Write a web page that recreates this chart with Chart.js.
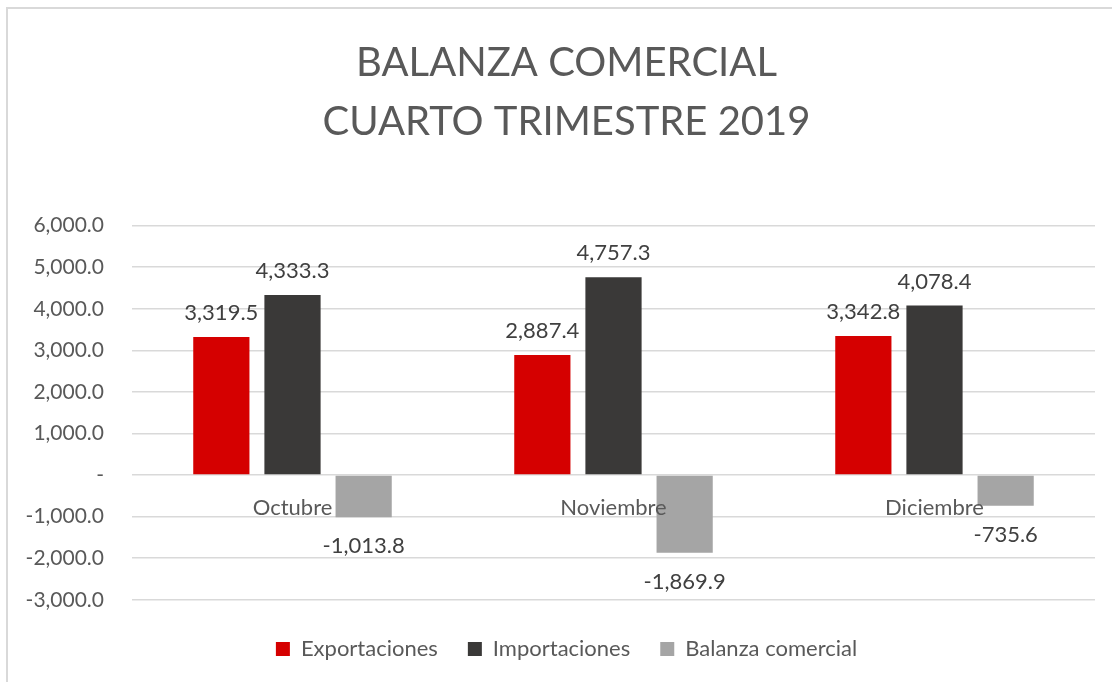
<!DOCTYPE html>
<html>
<head>
<meta charset="utf-8">
<script src="https://cdn.jsdelivr.net/npm/chart.js@4/dist/chart.umd.min.js"></script>
<style>
  html, body { margin: 0; padding: 0; background: #ffffff; overflow: hidden; }
  #wrap { position: absolute; left: 0; top: 0; width: 1112px; height: 682px; }
  #frame { position: absolute; left: 6px; top: 7px; width: 1200px; height: 800px; border: 2px solid #d9d9d9; box-sizing: border-box; pointer-events: none; }
</style>
</head>
<body>
<div id="wrap"><canvas id="c" width="1112" height="682"></canvas></div>
<div id="frame"></div>
<script>
const categories = ['Octubre', 'Noviembre', 'Diciembre'];
const exportaciones = [3319.5, 2887.4, 3342.8];
const importaciones = [4333.3, 4757.3, 4078.4];
const balanza = [-1013.8, -1869.9, -735.6];
const seriesNames = ['Exportaciones', 'Importaciones', 'Balanza comercial'];
const titleLines = ['BALANZA COMERCIAL', 'CUARTO TRIMESTRE 2019'];
const yMin = -3000, yMax = 6000, yStep = 1000;

const FONT = 'Lato, "Open Sans", sans-serif';
const TXT = '#595959';

function fmt(v) {
  return v.toLocaleString('en-US', { minimumFractionDigits: 1, maximumFractionDigits: 1 });
}

const labelPlugin = {
  id: 'valueLabels',
  afterDatasetsDraw(chart) {
    const ctx = chart.ctx;
    ctx.save();
    ctx.font = '22px ' + FONT;
    ctx.fillStyle = '#404040';
    ctx.textAlign = 'center';
    chart.data.datasets.forEach((ds, i) => {
      const meta = chart.getDatasetMeta(i);
      meta.data.forEach((el, j) => {
        const v = ds.data[j];
        if (v >= 0) {
          ctx.textBaseline = 'bottom';
          ctx.fillText(fmt(v), el.x, el.y - 13);
        } else {
          ctx.textBaseline = 'top';
          ctx.fillText(fmt(v), el.x, el.y + 18);
        }
      });
    });
    ctx.restore();
  }
};

// centre title and legend on the outer frame (as in the original) rather than the padded box
const shiftPlugin = {
  id: 'shiftBlocks',
  afterLayout(chart) {
    const dx = 9;
    [chart.titleBlock, chart.legend].forEach(b => {
      if (b) { b.left += dx; b.right += dx; }
    });
  }
};

new Chart(document.getElementById('c'), {
  type: 'bar',
  data: {
    labels: categories,
    datasets: [
      { label: seriesNames[0], data: exportaciones, backgroundColor: '#d50000' },
      { label: seriesNames[1], data: importaciones, backgroundColor: '#3a3938' },
      { label: seriesNames[2], data: balanza, backgroundColor: '#a5a5a5' }
    ]
  },
  options: {
    responsive: false,
    animation: false,
    layout: { padding: { left: 20, right: 17, top: 20, bottom: 12 } },
    datasets: { bar: { categoryPercentage: 0.665, barPercentage: 0.79 } },
    plugins: {
      title: {
        display: true,
        text: titleLines,
        color: TXT,
        font: { family: FONT, size: 40, weight: '400', lineHeight: 1.47 },
        padding: { top: 14, bottom: 74 }
      },
      legend: {
        position: 'bottom',
        title: { display: true, text: ' ', font: { size: 1 }, padding: { top: 7, bottom: 0 } },
        labels: {
          color: TXT,
          font: { family: FONT, size: 22 },
          boxWidth: 14,
          boxHeight: 14,
          padding: 30
        }
      },
      tooltip: { enabled: false }
    },
    scales: {
      x: {
        position: { y: 0 },
        grid: { display: false },
        border: { display: false },
        ticks: { z: 1, color: TXT, font: { family: FONT, size: 22 }, padding: 12 }
      },
      y: {
        min: yMin,
        max: yMax,
        afterFit(scale) { scale.width = 112; },
        ticks: {
          stepSize: yStep,
          color: TXT,
          font: { family: FONT, size: 21 },
          padding: 28,
          callback: v => v === 0 ? '-' : fmt(v)
        },
        grid: { color: '#d9d9d9', lineWidth: 1.5, drawTicks: false },
        border: { display: false }
      }
    }
  },
  plugins: [labelPlugin, shiftPlugin]
});
</script>
</body>
</html>
